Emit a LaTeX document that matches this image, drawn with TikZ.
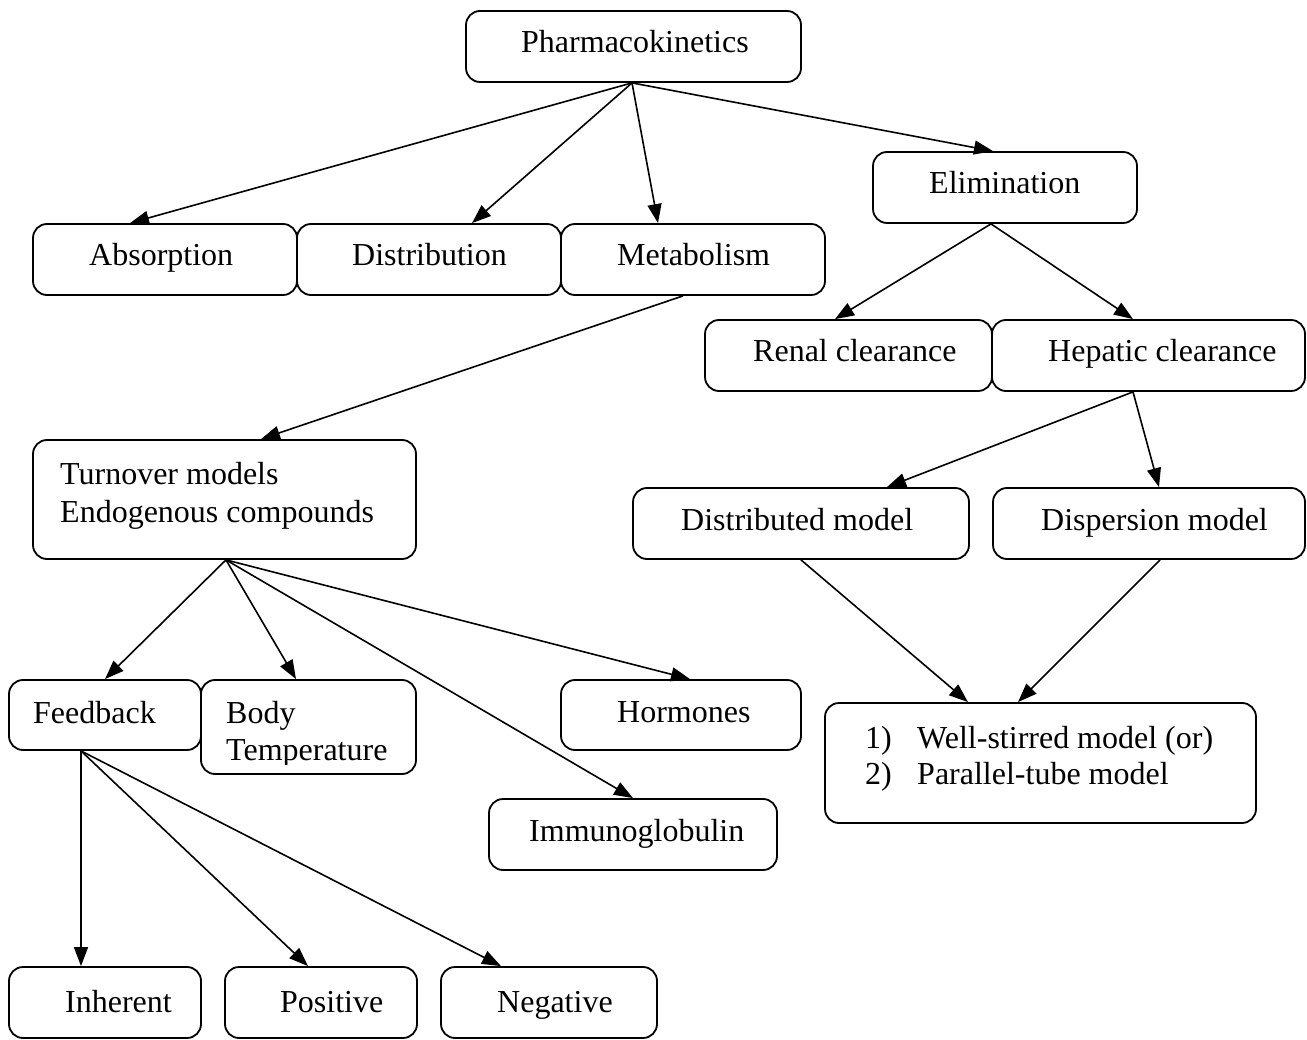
\documentclass[tikz,border=0pt]{standalone}
\usepackage{fontspec}
\setmainfont{Liberation Serif}
\usetikzlibrary{arrows.meta}

\begin{document}
\begin{tikzpicture}[x=1pt,y=-1pt,
  font=\fontsize{32}{37}\selectfont,
  box/.style={draw, line width=1.8pt, rounded corners=14pt, inner sep=0pt,
              rectangle, minimum height=71pt},
  txt/.style={anchor=base west, inner sep=0pt},
  arr/.style={line width=1.6pt, -{Triangle[length=19pt,width=14pt]}}]

\useasboundingbox (0,0) rectangle (1307,1040);

% ---- boxes ----
\node[box, minimum width=335pt] (pk)    at (633.5,46.5) {};
\node[box, minimum width=264pt] (elim)  at (1005,187.5) {};
\node[box, minimum width=264pt] (abs)   at (165,259.5) {};
\node[box, minimum width=264pt] (dist)  at (429,259.5) {};
\node[box, minimum width=264pt] (met)   at (693,259.5) {};
\node[box, minimum width=287pt] (renal) at (848.5,355.5) {};
\node[box, minimum width=313pt] (hep)   at (1148.5,355.5) {};
\node[box, minimum width=383pt, minimum height=119pt] (turn) at (224.5,499.5) {};
\node[box, minimum width=336pt] (dmod)  at (801,523.5) {};
\node[box, minimum width=312pt] (dispm) at (1149,523.5) {};
\node[box, minimum width=192pt, minimum height=70pt] (fb)   at (105,715) {};
\node[box, minimum width=215pt, minimum height=94pt] (body) at (308.5,727) {};
\node[box, minimum width=240pt, minimum height=70pt] (horm) at (681,715) {};
\node[box, minimum width=431pt, minimum height=120pt] (well) at (1040.5,763) {};
\node[box, minimum width=288pt] (immu)  at (633,834.5) {};
\node[box, minimum width=192pt] (inh)   at (105,1002.5) {};
\node[box, minimum width=192pt] (pos)   at (321,1002.5) {};
\node[box, minimum width=216pt] (neg)   at (549,1002.5) {};

% ---- labels ----
\node[txt] (t-pk)    at (521,53)  {Pharmacokinetics};
\node[txt] (t-elim)  at (929,194) {Elimination};
\node[txt] (t-abs)   at (89,266)  {Absorption};
\node[txt] (t-dist)  at (352,266) {Distribution};
\node[txt] (t-met)   at (617,266) {Metabolism};
\node[txt] (t-renal) at (753,362) {Renal clearance};
\node[txt] (t-hep)   at (1048,362) {Hepatic clearance};
\node[txt] (t-turn1) at (60,485)  {Turnover models};
\node[txt] (t-turn2) at (60,522)  {Endogenous compounds};
\node[txt] (t-dmod)  at (681,530) {Distributed model};
\node[txt] (t-dispm) at (1041,530) {Dispersion model};
\node[txt] (t-fb)    at (33,723)  {Feedback};
\node[txt] (t-body1) at (226,723) {Body};
\begin{scope}
  \clip (201,680) rectangle (416,764);
  \node[txt] (t-body2) at (226,760) {Temperature};
\end{scope}
\node[txt] (t-horm)  at (617,722) {Hormones};
\node[txt] (t-n1)    at (865,748) {1)};
\node[txt] (t-well1) at (917,748) {Well-stirred model (or)};
\node[txt] (t-n2)    at (865,784) {2)};
\node[txt] (t-well2) at (917,784) {Parallel-tube model};
\node[txt] (t-immu)  at (529,841) {Immunoglobulin};
\node[txt] (t-inh)   at (65,1012) {Inherent};
\node[txt] (t-pos)   at (280,1012) {Positive};
\node[txt] (t-neg)   at (497,1012) {Negative};

% ---- connectors ----
\draw[arr] ([xshift=-1.5pt]pk.south) -- ([xshift=-35pt]abs.north);
\draw[arr] ([xshift=-1.5pt]pk.south) -- ([xshift=43pt]dist.north);
\draw[arr] ([xshift=-1.5pt]pk.south) -- ([xshift=-35pt]met.north);
\draw[arr] ([xshift=-1.5pt]pk.south) -- ([xshift=-12pt]elim.north);

\draw[arr] ([xshift=-14pt]elim.south) -- ([xshift=-13.5pt]renal.north);
\draw[arr] ([xshift=-14pt]elim.south) -- ([xshift=-15.5pt]hep.north);

\draw[arr] ([xshift=-10pt]met.south) -- ([xshift=36.5pt]turn.north);

\draw[arr] ([xshift=-15.5pt]hep.south) -- ([xshift=86pt]dmod.north);
\draw[arr] ([xshift=-15.5pt]hep.south) -- ([xshift=10pt]dispm.north);

\draw[arr] (dmod.south) -- ([xshift=-72.5pt]well.north);
\draw[arr] ([xshift=11pt]dispm.south) -- ([xshift=-22.5pt]well.north);

\draw[arr] ([xshift=1.5pt]turn.south) -- (fb.north);
\draw[arr] ([xshift=1.5pt]turn.south) -- ([xshift=-12.5pt]body.north);
\draw[arr] ([xshift=1.5pt]turn.south) -- ([xshift=9pt]horm.north);
\draw[arr] ([xshift=1.5pt]turn.south) -- (immu.north);

\draw[arr] ([xshift=-24pt]fb.south) -- ([xshift=-24pt]inh.north);
\draw[arr] ([xshift=-24pt]fb.south) -- ([xshift=-13pt]pos.north);
\draw[arr] ([xshift=-24pt]fb.south) -- ([xshift=-48pt]neg.north);
\end{tikzpicture}
\end{document}
